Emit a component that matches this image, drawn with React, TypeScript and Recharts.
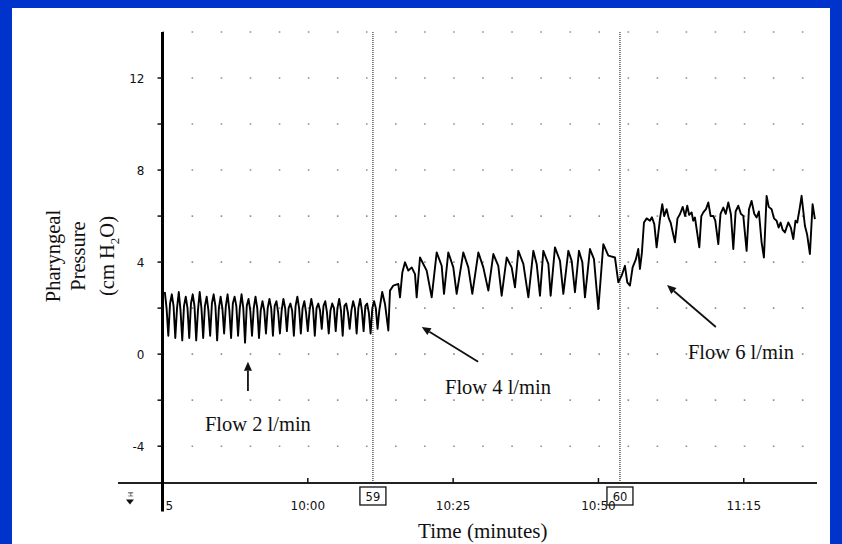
import React from 'react';
import { ComposedChart, Line, XAxis, YAxis, CartesianGrid, ReferenceLine, ReferenceDot } from 'recharts';

// ---- data (time in minutes after 9:35, pressure in cm H2O) ----
const flow2Time = [
  0.4, 0.7, 1.0, 1.3, 1.6, 1.9, 2.2, 2.5, 2.8, 3.1, 3.4, 3.7, 4.0, 4.3, 4.6, 4.9, 5.2, 5.5, 5.8, 6.1,
  6.4, 6.7, 7.0, 7.3, 7.6, 7.9, 8.2, 8.5, 8.8, 9.1, 9.4, 9.7, 10.0, 10.3, 10.6, 10.9, 11.2, 11.5, 11.8, 12.1,
  12.4, 12.7, 13.0, 13.3, 13.6, 13.9, 14.2, 14.5, 14.8, 15.1, 15.4, 15.7, 16.0, 16.3, 16.6, 16.9, 17.2, 17.5, 17.8, 18.1,
  18.4, 18.7, 19.0, 19.3, 19.6, 19.9, 20.2, 20.5, 20.8, 21.1, 21.4, 21.7, 22.0, 22.3, 22.6, 22.9, 23.2, 23.5, 23.8, 24.1,
  24.4, 24.7, 25.0, 25.3, 25.6, 25.9, 26.2, 26.5, 26.8, 27.1, 27.4, 27.7, 28.0, 28.3, 28.6, 28.9, 29.2, 29.5, 29.8, 30.1,
  30.4, 30.7, 31.0, 31.3, 31.6, 31.9, 32.2, 32.5, 32.8, 33.1, 33.4, 33.7, 34.0, 34.3, 34.6, 34.9, 35.2, 35.5, 35.8, 36.1,
  36.4, 36.7, 37.0, 37.3,
];
const flow2Pressure = [
  2.7, 2.0, 0.8, 2.2, 2.6, 2.1, 0.7, 2.0, 2.7, 1.9, 0.6, 2.1, 2.5, 2.0, 0.7, 2.2, 2.6, 2.1, 0.6, 1.9,
  2.7, 2.0, 0.7, 2.1, 2.5, 1.9, 0.8, 2.2, 2.6, 2.1, 0.6, 2.0, 2.5, 2.0, 0.9, 2.1, 2.6, 1.9, 0.7, 2.2,
  2.5, 2.1, 0.8, 2.0, 2.6, 2.0, 0.5, 2.1, 2.4, 1.9, 0.8, 2.0, 2.5, 2.0, 0.7, 1.9, 2.3, 1.9, 0.9, 2.0,
  2.4, 2.0, 0.8, 2.1, 2.3, 1.8, 0.9, 1.9, 2.4, 2.0, 1.0, 2.0, 2.2, 1.9, 0.8, 2.1, 2.5, 2.0, 0.9, 2.0,
  2.3, 1.8, 1.0, 1.9, 2.4, 2.0, 0.8, 2.0, 2.2, 1.9, 1.1, 2.1, 2.3, 1.8, 0.9, 1.9, 2.2, 2.0, 1.0, 2.0,
  2.4, 1.9, 0.8, 2.1, 2.2, 1.8, 1.1, 1.9, 2.3, 2.0, 0.9, 2.0, 2.4, 1.9, 1.0, 2.1, 2.2, 1.8, 0.9, 2.0,
  2.3, 2.0, 1.1, 1.9,
];
const flow4Time = [
  37.8, 38.28, 38.85, 39.14, 39.71, 40.57, 40.86, 41.26, 41.72, 42.29, 42.87, 43.44, 43.73, 44.3, 45.45,
  46.31, 47.17, 48.03, 48.43, 49.17, 50.03, 50.61, 51.75, 52.61, 53.3, 54.34, 55.19, 56.06, 56.92, 57.77,
  58.35, 59.21, 60.07, 60.64, 61.22, 62.08, 62.94, 63.8, 64.37, 64.94, 65.52, 66.38, 66.78, 67.52, 68.38,
  68.96, 69.82, 70.39, 70.96, 71.65, 72.23, 72.68, 73.54, 74.23, 74.98, 75.84, 76.7, 77.84, 78.42,
];
const flow4Pressure = [
  2.7, 2.18, 1.03, 2.76, 2.98, 3.05, 2.47, 3.55, 3.99, 3.63, 3.77, 3.48, 2.47, 4.2, 3.63,
  2.47, 4.42, 3.84, 2.62, 4.42, 3.77, 2.62, 4.42, 3.77, 2.62, 4.42, 3.77, 2.76, 4.35, 3.84,
  2.54, 4.2, 3.77, 2.9, 4.49, 3.92, 2.47, 4.49, 3.92, 2.54, 4.49, 3.92, 2.54, 4.64, 4.06,
  2.62, 4.49, 4.06, 2.69, 4.49, 3.99, 2.47, 4.57, 4.13, 1.96, 4.78, 4.28, 4.2, 3.12,
];
const flow6Time = [
  78.99, 79.56, 79.96, 80.42, 80.88, 81.45, 81.85, 82.14, 82.48, 82.83, 83.3, 83.86, 84.2, 84.61, 85.01,
  85.58, 85.98, 86.3, 86.73, 87.1, 87.42, 88.16, 88.6, 89.02, 89.5, 89.9, 90.28, 90.6, 91.03, 91.3,
  91.6, 92.35, 92.7, 93.04, 93.5, 93.9, 94.3, 94.76, 95.1, 95.62, 96.0, 96.48, 96.9, 97.34, 97.79,
  98.2, 98.6, 99.06, 99.5, 99.92, 100.49, 100.9, 101.35, 101.8, 102.21, 102.6, 103.07, 103.47, 103.93, 104.3,
  104.79, 105.2, 105.65, 106.0, 106.34, 106.7, 107.08, 107.66, 108.1, 108.52, 108.9, 109.2, 109.6, 109.95, 110.52,
  110.9, 111.38, 111.84, 112.24,
];
const flow6Pressure = [
  3.41, 3.84, 3.12, 2.98, 3.77, 4.13, 4.57, 3.7, 4.42, 5.72, 5.9, 5.8, 5.95, 5.65, 4.64,
  5.87, 6.52, 6.0, 6.3, 5.9, 5.72, 4.86, 5.9, 6.08, 6.4, 6.0, 6.45, 6.05, 6.16, 5.8,
  5.94, 4.64, 6.0, 6.16, 6.3, 6.59, 6.0, 6.01, 5.8, 4.78, 6.1, 6.37, 6.1, 6.59, 6.08,
  4.57, 6.2, 6.45, 6.1, 6.01, 4.49, 6.3, 6.66, 6.1, 5.94, 6.2, 4.86, 4.2, 6.88, 6.4,
  6.3, 5.9, 5.8, 5.5, 5.72, 5.4, 5.29, 5.72, 5.5, 5.0, 5.8, 5.72, 6.3, 6.88, 5.58,
  5.2, 4.35, 6.52, 5.87,
];

const xTickValues = [0, 25, 50, 75, 100];
const xTickLabels = ['5', '10:00', '10:25', '10:50', '11:15'];
const yTickValues = [-4, -2, 0, 2, 4, 6, 8, 10, 12, 14];
const yTickLabels = ['-4', '', '0', '', '4', '', '8', '', '12', ''];

const markerTimes = [36.2, 78.7];
const markerLabels = ['59', '60'];

const flowLabels = ['Flow 2 l/min', 'Flow 4 l/min', 'Flow 6 l/min'];
const flowLabelAt = [
  { t: 7.3, v: -3.33 },
  { t: 48.6, v: -1.72 },
  { t: 90.4, v: -0.2 },
];
const arrowTail = [
  { t: 14.7, v: -1.6 },
  { t: 54.3, v: -0.33 },
  { t: 95.2, v: 1.18 },
];
const arrowHead = [
  { t: 14.7, v: -0.33 },
  { t: 44.6, v: 1.18 },
  { t: 86.8, v: 3.0 },
];

// ---- layout ----
const W = 842;
const H = 544;
const AXIS_W = 1;
const M = { top: 32, right: 25, bottom: 61 - AXIS_W, left: 162.5 - AXIS_W };
const X_DOMAIN: [number, number] = [0, 112.6];
const Y_DOMAIN: [number, number] = [-5.6, 14];
const plotW = W - 162.5 - M.right;
const gridPeriod = (5 * plotW) / (X_DOMAIN[1] - X_DOMAIN[0]);

const data = [
  ...flow2Time.map((t, i) => ({ t, p: flow2Pressure[i] })),
  ...flow4Time.map((t, i) => ({ t, p: flow4Pressure[i] })),
  ...flow6Time.map((t, i) => ({ t, p: flow6Pressure[i] })),
];

const SANS = 'DejaVu Sans, sans-serif';
const SERIF = 'Liberation Serif, Times New Roman, serif';
const INK = '#111111';

const XTick = (props: any) => {
  const { x, y, payload } = props;
  const i = xTickValues.indexOf(payload.value);
  const first = i === 0;
  return (
    <g>
      {!first && <line x1={x} x2={x} y1={y - 5} y2={y} stroke={INK} strokeWidth={1.5} />}
      <text
        x={first ? x + 3 : x}
        y={y + 27}
        textAnchor={first ? 'start' : 'middle'}
        fontFamily={SANS}
        fontSize={12}
        fill={INK}
      >
        {xTickLabels[i]}
      </text>
    </g>
  );
};

const YTick = (props: any) => {
  const { x, y, payload } = props;
  const i = yTickValues.indexOf(payload.value);
  if (payload.value === 14) return <g />;
  return (
    <g>
      <line x1={x - 5} x2={x} y1={y} y2={y} stroke={INK} strokeWidth={1.5} />
      <text x={x - 18} y={y + 4.5} textAnchor="end" fontFamily={SANS} fontSize={12} fill={INK}>
        {yTickLabels[i]}
      </text>
    </g>
  );
};

const arrowShape = (props: any) => {
  const { x1, y1, x2, y2 } = props;
  const dx = x2 - x1;
  const dy = y2 - y1;
  const len = Math.sqrt(dx * dx + dy * dy) || 1;
  const ux = dx / len;
  const uy = dy / len;
  const hl = 9;
  const hw = 4;
  const bx = x2 - ux * hl;
  const by = y2 - uy * hl;
  const pts = `${x2},${y2} ${bx - uy * hw},${by + ux * hw} ${bx + uy * hw},${by - ux * hw}`;
  return (
    <g>
      <line x1={x1} y1={y1} x2={bx} y2={by} stroke={INK} strokeWidth={1.8} />
      <polygon points={pts} fill={INK} />
    </g>
  );
};

const markerShape = (label: string) => (props: any) => {
  const { x1, y1, x2, y2 } = props;
  const bottom = Math.max(y1, y2);
  return (
    <g>
      <line x1={x1} y1={y1} x2={x2} y2={y2} stroke="#333" strokeWidth={1.2} strokeDasharray="1 1" />
      <rect x={x1 - 13} y={bottom + 4} width={26} height={18} fill="#fff" stroke={INK} strokeWidth={1.3} />
      <text x={x1} y={bottom + 17.5} textAnchor="middle" fontFamily={SANS} fontSize={11.5} fill={INK}>
        {label}
      </text>
    </g>
  );
};

const textShape = (label: string) => (props: any) => (
  <text x={props.cx} y={props.cy} fontFamily={SERIF} fontSize={20.5} fill={INK}>
    {label}
  </text>
);

const hMarkShape = (props: any) => {
  const { cx, cy } = props;
  return (
    <g>
      <text
        x={cx}
        y={cy}
        transform={`rotate(90 ${cx} ${cy})`}
        textAnchor="middle"
        dominantBaseline="central"
        fontFamily={SANS}
        fontSize={7}
        fill={INK}
      >
        H
      </text>
      <polygon points={`${cx - 4},${cy + 5} ${cx + 4},${cy + 5} ${cx},${cy + 10}`} fill={INK} />
    </g>
  );
};

const YTitle = (props: any) => {
  const vb = props.viewBox;
  const ax = vb.x + vb.width;
  const cy = vb.y + 224;
  const lines = [
    { dx: -103, node: 'Pharyngeal' },
    { dx: -78, node: 'Pressure' },
  ];
  const x3 = ax - 49;
  return (
    <g fontFamily={SERIF} fontSize={20.5} fill={INK}>
      {lines.map((l, i) => (
        <text key={i} x={ax + l.dx} y={cy} transform={`rotate(-90 ${ax + l.dx} ${cy})`} textAnchor="middle">
          {l.node}
        </text>
      ))}
      <text x={x3} y={cy} transform={`rotate(-90 ${x3} ${cy})`} textAnchor="middle">
        (cm H<tspan fontSize={13} dy={5}>2</tspan>
        <tspan dy={-5}>O)</tspan>
      </text>
    </g>
  );
};

const XTitle = (props: any) => {
  const vb = props.viewBox;
  return (
    <text
      x={vb.x + vb.width / 2 - 7}
      y={vb.y + 55}
      textAnchor="middle"
      fontFamily={SERIF}
      fontSize={21}
      fill={INK}
    >
      Time (minutes)
    </text>
  );
};

export default function App() {
  return (
    <div style={{ position: 'absolute', left: 0, top: 0, width: W, height: H, background: '#0033CC', overflow: 'hidden' }}>
      <div style={{ position: 'absolute', left: 12, top: 8, width: 818, height: 540, background: '#ffffff' }} />
      <div style={{ position: 'absolute', left: 0, top: 0 }}>
        <ComposedChart width={W} height={H} data={data} margin={M}>
          <CartesianGrid
            vertical={false}
            stroke="#8f8f8f"
            strokeWidth={1.6}
            strokeDasharray={`1.6 ${gridPeriod - 1.6}`}
          />
          <XAxis
            dataKey="t"
            type="number"
            domain={X_DOMAIN}
            allowDataOverflow
            ticks={xTickValues}
            interval={0}
            tick={XTick}
            tickLine={false}
            axisLine={false}
            tickSize={0}
            tickMargin={0}
            height={AXIS_W}
            label={{ content: XTitle }}
          />
          <YAxis
            type="number"
            domain={Y_DOMAIN}
            allowDataOverflow
            ticks={yTickValues}
            interval={0}
            tick={YTick}
            tickLine={false}
            axisLine={false}
            tickSize={0}
            tickMargin={0}
            width={AXIS_W}
            label={{ content: YTitle }}
          />
          {markerTimes.map((t, i) => (
            <ReferenceLine key={`m${i}`} x={t} ifOverflow="visible" shape={markerShape(markerLabels[i])} />
          ))}
          <ReferenceLine
            segment={[{ x: -7.66, y: Y_DOMAIN[0] }, { x: X_DOMAIN[1], y: Y_DOMAIN[0] }]}
            ifOverflow="visible"
            stroke="#222"
            strokeWidth={1.8}
          />
          <ReferenceLine
            segment={[{ x: 0, y: Y_DOMAIN[1] }, { x: 0, y: -6.84 }]}
            ifOverflow="visible"
            stroke="#000"
            strokeWidth={3}
          />
          {arrowTail.map((a, i) => (
            <ReferenceLine
              key={`a${i}`}
              segment={[{ x: a.t, y: a.v }, { x: arrowHead[i].t, y: arrowHead[i].v }]}
              ifOverflow="visible"
              shape={arrowShape}
            />
          ))}
          {flowLabels.map((s, i) => (
            <ReferenceDot
              key={`f${i}`}
              x={flowLabelAt[i].t}
              y={flowLabelAt[i].v}
              r={0}
              ifOverflow="visible"
              shape={textShape(s)}
            />
          ))}
          <ReferenceDot x={-5.6} y={-6.1} r={0} ifOverflow="visible" shape={hMarkShape} />
          <Line
            type="linear"
            dataKey="p"
            stroke="#000"
            strokeWidth={1.9}
            strokeLinejoin="round"
            dot={false}
            isAnimationActive={false}
          />
        </ComposedChart>
      </div>
    </div>
  );
}
